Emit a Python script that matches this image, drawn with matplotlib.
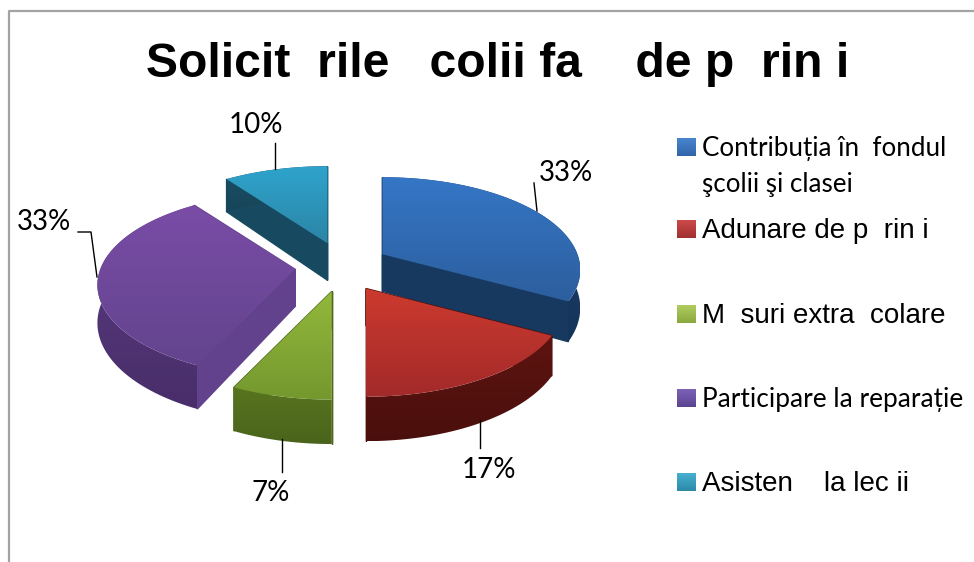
import numpy as np
from matplotlib import pyplot as plt
from matplotlib import patches as mpatch
from matplotlib.colors import LinearSegmentedColormap

# valori (%), sens orar de la ora 12
values = [33, 17, 7, 33, 10]
categories = ['Contribuția în  fondul\nşcolii şi clasei', 'Adunare de p  rin i', 'M  suri extra  colare',
              'Participare la reparație', 'Asisten    la lec ii']
title = 'Solicit  rile   colii fa    de p  rin i'

# top (sus, jos), side (sus, jos), fata radiala
top_colors = [('#3576c6', '#2c5f9e'), ('#cc3a2e', '#a32a2a'), ('#93b83c', '#74982e'),
              ('#7a4ca6', '#63448e'), ('#2fa4cc', '#2b85a6')]
side_colors = [('#1b4272', '#16345a'), ('#5e1410', '#4a0f0c'), ('#58741f', '#4a641b'),
               ('#5c3b82', '#482e6a'), ('#1a5068', '#174558')]
face_colors = ['#17385f', '#4a0f0c', '#4f6a1e', '#62428c', '#174a60']
marker_colors = [('#4a86d0', '#2f64a8'), ('#cc4a4a', '#a03030'), ('#b0cc60', '#8aa840'),
                 ('#7c62b8', '#5c4490'), ('#48b0d0', '#2c8aa8')]

# geometria pie-ului 3D, in pixeli
CX, CY = 342, 267
RX, RY = 195, 90
PERSP = 0.168
EX, EY = 47, 25
DEPTH = 37

W, H = 974, 562
fig = plt.figure(figsize=(W / 100, H / 100), dpi=100)
ax = fig.add_axes([0, 0, 1, 1])
ax.set_xlim(0, W)
ax.set_ylim(H, 0)
ax.axis('off')

zo = [1]


def project(t):
    s, c = np.sin(t), -np.cos(t)
    k = 1 / (1 - PERSP * c)
    return RX * s * k, RY * c * k, DEPTH * k


def gradient_poly(pts, c1, c2):
    # poligon cu gradient vertical
    zo[0] += 1
    poly = mpatch.Polygon(pts, closed=True, facecolor='none', edgecolor='none', zorder=zo[0])
    ax.add_patch(poly)
    cmap = LinearSegmentedColormap.from_list('g', [c1, c2])
    grad = np.linspace(0, 1, 64).reshape(-1, 1)
    xs, ys = pts[:, 0], pts[:, 1]
    im = ax.imshow(grad, extent=(xs.min(), xs.max(), ys.max(), ys.min()), cmap=cmap,
                   aspect='auto', zorder=zo[0], interpolation='bilinear')
    im.set_clip_path(poly)


def draw_slice(i, a0, a1):
    mid = (a0 + a1) / 2
    ox = CX + EX * np.sin(mid)
    oy = CY - EY * np.cos(mid)
    ts = np.linspace(a0, a1, 80)
    px, py, dp = project(ts)
    px, py = px + ox, py + oy

    # fetele radiale
    for j in (0, -1):
        face = np.array([[ox, oy], [px[j], py[j]], [px[j], py[j] + dp[j]], [ox, oy + DEPTH]])
        zo[0] += 1
        ax.add_patch(mpatch.Polygon(face, closed=True, color=face_colors[i], zorder=zo[0]))

    # marginea exterioara
    side = np.vstack([np.column_stack([px, py]), np.column_stack([px, py + dp])[::-1]])
    gradient_poly(side, *side_colors[i])

    # fata de sus
    top = np.vstack([[ox, oy], np.column_stack([px, py])])
    gradient_poly(top, *top_colors[i])


edges = np.radians(np.concatenate([[0], np.cumsum(values)]) * 3.6)
for i in [4, 0, 3, 2, 1]:
    draw_slice(i, edges[i], edges[i + 1])

# chenar
ax.plot([8.5, 8.5, W], [H, 11, 11], color='#a3a3a3', lw=1.6, zorder=50, clip_on=False)

ax.text(498, 77, title, fontsize=34.7, fontweight='bold', family='Liberation Sans',
        ha='center', va='baseline', zorder=60)

# etichete si linii de legatura
label_xy = [(566, 173), (489, 470), (271, 493), (44, 222), (256, 125)]
leaders = [[(534, 183), (537, 211)], [(480, 420), (480, 448)], [(282, 439), (282, 472)],
           [(78, 232), (91, 232), (97, 277)], [(275, 143), (275, 169)]]
for v, xy, line in zip(values, label_xy, leaders):
    ax.text(xy[0], xy[1], f'{v}%', fontsize=20, family='Lato', ha='center', va='center', zorder=60)
    ln = np.array(line)
    ax.plot(ln[:, 0], ln[:, 1], color='black', lw=1.0, zorder=60)

# legenda
legend_y = [147, 229, 314, 398, 482]
legend_fonts = [('Lato', 18.7), ('Liberation Sans', 20), ('Liberation Sans', 20), ('Lato', 18.9), ('Liberation Sans', 20)]
for i, (y, cat, (fam, fs)) in enumerate(zip(legend_y, categories, legend_fonts)):
    gradient_poly(np.array([[677, y - 9], [696, y - 9], [696, y + 9], [677, y + 9]], dtype=float),
                  *marker_colors[i])
    base = y + 9
    if '\n' in cat:
        first, second = cat.split('\n')
        ax.text(702, base, first, fontsize=fs, family=fam, va='baseline', zorder=60)
        ax.text(702, base + 36, second, fontsize=fs, family=fam, va='baseline', zorder=60)
    else:
        ax.text(702, base, cat, fontsize=fs, family=fam, va='baseline', zorder=60)

ax.set_xlim(0, W)
ax.set_ylim(H, 0)
fig.savefig('out.png', dpi=100)
